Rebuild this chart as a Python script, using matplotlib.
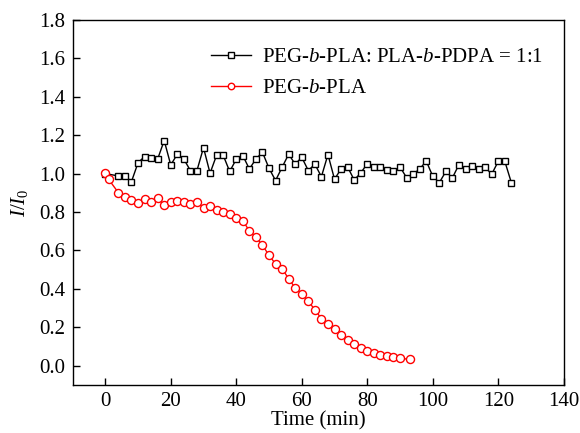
import matplotlib
matplotlib.use("Agg")
import matplotlib.pyplot as plt

plt.rcParams['font.family'] = ['Liberation Serif', 'DejaVu Serif']
plt.rcParams['mathtext.fontset'] = 'custom'
plt.rcParams['mathtext.rm'] = 'Liberation Serif'
plt.rcParams['mathtext.it'] = 'Liberation Serif:italic'
plt.rcParams['mathtext.bf'] = 'Liberation Serif:bold'

# Mixed micelles PEG-b-PLA : PLA-b-PDPA = 1:1
t_mix = [0, 4, 6, 8, 10, 12, 14, 16, 18, 20, 22, 24, 26, 28, 30, 32, 34, 36, 38,
         40, 42, 44, 46, 48, 50, 52, 54, 56, 58, 60, 62, 64, 66, 68, 70, 72, 74,
         76, 78, 80, 82, 84, 86, 88, 90, 92, 94, 96, 98, 100, 102, 104, 106, 108,
         110, 112, 114, 116, 118, 120, 122, 124]
i_mix = [1.00, 0.988, 0.988, 0.958, 1.056, 1.089, 1.083, 1.076, 1.172, 1.045,
         1.101, 1.075, 1.016, 1.016, 1.135, 1.002, 1.096, 1.096, 1.011, 1.075,
         1.094, 1.024, 1.076, 1.111, 1.028, 0.964, 1.033, 1.101, 1.049, 1.085,
         1.016, 1.049, 0.984, 1.099, 0.971, 1.024, 1.035, 0.967, 1.003, 1.052,
         1.035, 1.037, 1.019, 1.011, 1.035, 0.979, 0.998, 1.023, 1.066, 0.986,
         0.953, 1.011, 0.978, 1.047, 1.023, 1.040, 1.023, 1.033, 0.997, 1.064,
         1.064, 0.953]

# PEG-b-PLA micelles
t_peg = [0, 1, 4, 6, 8, 10, 12, 14, 16, 18, 20, 22, 24, 26, 28, 30, 32, 34, 36,
         38, 40, 42, 44, 46, 48, 50, 52, 54, 56, 58, 60, 62, 64, 66, 68, 70, 72,
         74, 76, 78, 80, 82, 84, 86, 88, 90, 93]
i_peg = [1.002, 0.971, 0.901, 0.877, 0.861, 0.846, 0.867, 0.851, 0.873, 0.837,
         0.854, 0.856, 0.851, 0.841, 0.853, 0.823, 0.833, 0.809, 0.799, 0.790,
         0.768, 0.755, 0.702, 0.669, 0.627, 0.575, 0.530, 0.505, 0.453, 0.405,
         0.375, 0.335, 0.292, 0.245, 0.216, 0.191, 0.160, 0.132, 0.115, 0.091,
         0.078, 0.068, 0.057, 0.049, 0.044, 0.039, 0.033]

labels = [r'PEG-$\it{b}$-PLA: PLA-$\it{b}$-PDPA = 1:1', r'PEG-$\it{b}$-PLA']

fig = plt.figure(figsize=(5.8, 4.33), dpi=100)
ax = fig.add_axes([0.125, 0.111, 0.847, 0.843])

ax.plot(t_mix, i_mix, color='black', lw=1.0, marker='s', ms=5.0,
        mfc='white', mec='black', mew=1.0, label=labels[0])
ax.plot(t_peg, i_peg, color='red', lw=1.0, marker='o', ms=5.8,
        mfc='white', mec='red', mew=1.0, label=labels[1])

ax.set_xlim(-10, 140)
ax.set_ylim(-0.1, 1.8)
ax.set_xticks(range(0, 141, 20))
ax.set_yticks([0.0, 0.2, 0.4, 0.6, 0.8, 1.0, 1.2, 1.4, 1.6, 1.8])
ax.set_yticklabels([f'{v:.1f}' for v in ax.get_yticks()])
ax.tick_params(direction='in', length=5, width=1, labelsize=15, pad=5,
               top=False, right=False)
for s in ax.spines.values():
    s.set_linewidth(1.0)

ax.set_xlabel('Time (min)', fontsize=15, labelpad=0)
ax.set_ylabel(r'$I/I_0$', fontsize=15, labelpad=7)

ax.legend(loc='upper right', bbox_to_anchor=(0.995, 0.975), frameon=False,
          fontsize=15, handlelength=1.95, handletextpad=0.5, labelspacing=0.55,
          markerscale=0.8)

fig.savefig('out.png', dpi=100)
